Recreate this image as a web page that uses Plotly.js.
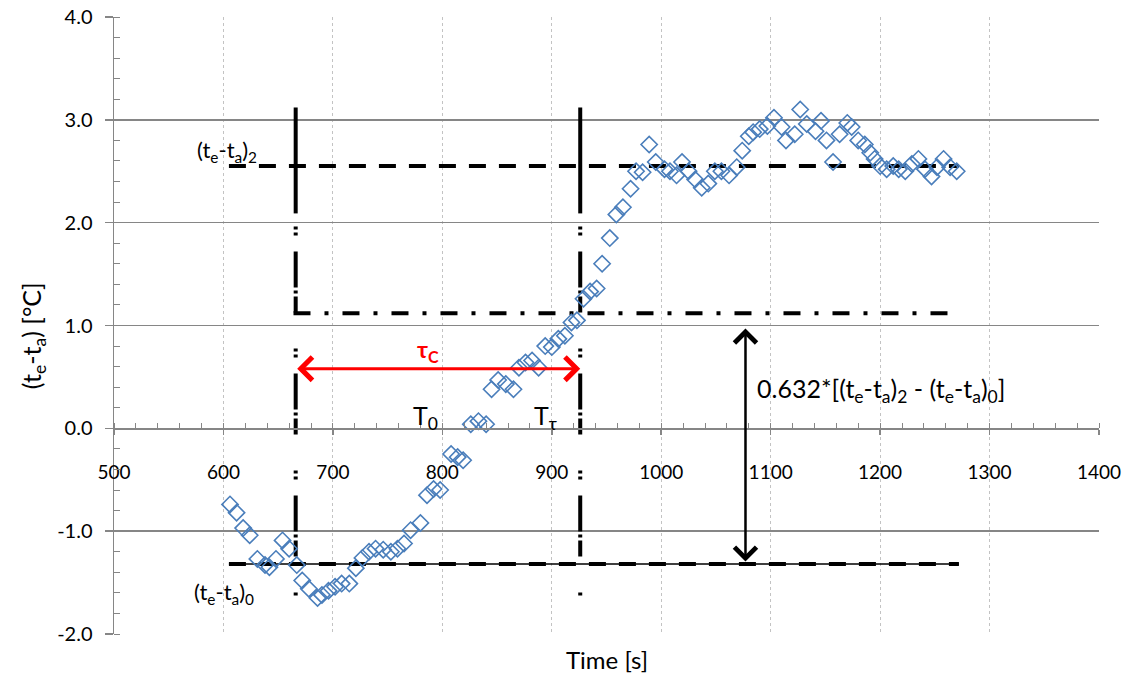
<!DOCTYPE html>
<html>
<head>
<meta charset="utf-8">
<script src="https://cdn.plot.ly/plotly-3.0.1.min.js"></script>
<style>html,body{margin:0;padding:0;background:#fff;}#chart{width:1129px;height:677px;}</style>
</head>
<body>
<div id="chart"></div>
<script>
// ---- data ----
const timeS = [606,612,618,624,631,638,642,648,654,660,667,672,678,686,690,696,702,708,715,721,
  727,733,739,746,753,759,765,771,780,786,792,798,808,814,819,826,833,840,845,851,
  858,865,870,876,882,888,894,900,906,912,918,923,929,935,941,946,953,959,965,972,
  977,983,989,995,1003,1008,1014,1019,1025,1031,1037,1043,1049,1055,1062,1069,1074,1080,1084,1090,
  1097,1103,1110,1114,1122,1127,1133,1141,1146,1151,1157,1163,1170,1174,1180,1186,1191,1195,1200,1206,
  1212,1217,1223,1229,1235,1241,1247,1252,1258,1264,1270];
const dT = [-0.74,-0.82,-0.97,-1.04,-1.27,-1.33,-1.35,-1.27,-1.09,-1.17,-1.33,-1.48,-1.56,-1.65,-1.62,-1.58,-1.54,-1.51,-1.51,-1.36,
  -1.26,-1.20,-1.17,-1.18,-1.20,-1.17,-1.12,-0.99,-0.92,-0.65,-0.59,-0.60,-0.25,-0.28,-0.31,0.04,0.07,0.04,0.38,0.47,
  0.43,0.38,0.59,0.64,0.66,0.59,0.80,0.79,0.87,0.90,1.03,1.05,1.26,1.33,1.36,1.60,1.85,2.08,2.15,2.33,
  2.50,2.49,2.76,2.59,2.52,2.50,2.46,2.59,2.50,2.42,2.34,2.38,2.50,2.50,2.46,2.54,2.70,2.84,2.88,2.91,
  2.94,3.02,2.93,2.80,2.86,3.10,2.96,2.89,2.99,2.80,2.59,2.86,2.97,2.93,2.80,2.76,2.68,2.62,2.55,2.52,
  2.55,2.52,2.50,2.57,2.62,2.52,2.45,2.54,2.62,2.54,2.50];

// reference levels and times
const lineSpan = [605, 1272];          // time span of the horizontal levels
const level2 = 2.55;                   // (te-ta)2
const level0 = -1.32;                  // (te-ta)0
const level632 = 1.12;                 // 63.2 % level
const level632Span = [664, 1272];
const T0 = 666;                        // start time
const Ttau = 926;                      // time at 63.2 %
const vertRange = [3.12, -1.64];
const vertSolidEnd = 2.09;
const tauArrowLevel = 0.58;
const stepArrowTime = 1077;
const stepArrowRange = [0.97, -1.31];

const xTicks = [500,600,700,800,900,1000,1100,1200,1300,1400];
const yTicks = [-2,-1,0,1,2,3,4];

const FONT = 'Lato, "Open Sans", sans-serif';
const blk = '#000000';

const traces = [
  {x: lineSpan, y: [level0, level0], mode: 'lines', line: {color: blk, width: 1.6}, hoverinfo: 'skip'},
  {x: lineSpan, y: [level0, level0], mode: 'lines', line: {color: blk, width: 4, dash: '17px,13px'}, hoverinfo: 'skip'},
  {x: lineSpan, y: [level2, level2], mode: 'lines', line: {color: blk, width: 4, dash: '17px,13px'}, hoverinfo: 'skip'},
  {x: level632Span, y: [level632, level632], mode: 'lines', line: {color: blk, width: 4, dash: '17px,14px,4px,14px'}, hoverinfo: 'skip'},
  {x: [T0, T0], y: [vertRange[0], vertSolidEnd], mode: 'lines', line: {color: blk, width: 4}, hoverinfo: 'skip'},
  {x: [Ttau, Ttau], y: [vertRange[0], vertSolidEnd], mode: 'lines', line: {color: blk, width: 4}, hoverinfo: 'skip'},
  {x: [T0, T0], y: [vertSolidEnd, vertRange[1]], mode: 'lines', line: {color: blk, width: 4, dash: '0px,13px,3px,3px,3px,16px,23px'}, hoverinfo: 'skip'},
  {x: [Ttau, Ttau], y: [vertSolidEnd, vertRange[1]], mode: 'lines', line: {color: blk, width: 4, dash: '0px,13px,3px,3px,3px,16px,23px'}, hoverinfo: 'skip'},
  {x: timeS, y: dT, mode: 'markers', marker: {symbol: 'diamond-open', size: 12.5, color: '#4a7ebb', line: {width: 1.6, color: '#4a7ebb'}}, hoverinfo: 'x+y'}
];

const annotations = [
  {x: Ttau, y: tauArrowLevel, ax: T0, ay: tauArrowLevel, xref: 'x', yref: 'y', axref: 'x', ayref: 'y',
   showarrow: true, arrowside: 'end+start', arrowhead: 4, startarrowhead: 4, arrowsize: 1.5, startarrowsize: 1.5,
   arrowwidth: 3, arrowcolor: '#ff0000', text: ''},
  {x: stepArrowTime, y: stepArrowRange[0], ax: stepArrowTime, ay: stepArrowRange[1], xref: 'x', yref: 'y', axref: 'x', ayref: 'y',
   showarrow: true, arrowside: 'end+start', arrowhead: 4, startarrowhead: 4, arrowsize: 1.7, startarrowsize: 1.7,
   arrowwidth: 2.5, arrowcolor: blk, text: ''},
  {x: 775, y: 0.76, xref: 'x', yref: 'y', xanchor: 'left', yanchor: 'middle', showarrow: false,
   text: '<b>τ<sub>C</sub></b>', font: {family: FONT, size: 23, color: '#ff0000'}},
  {x: 574, y: 2.70, xref: 'x', yref: 'y', xanchor: 'left', yanchor: 'middle', showarrow: false,
   text: '(t<sub>e</sub>-t<sub>a</sub>)<sub>2</sub>', font: {family: FONT, size: 22, color: blk}},
  {x: 571, y: -1.60, xref: 'x', yref: 'y', xanchor: 'left', yanchor: 'middle', showarrow: false,
   text: '(t<sub>e</sub>-t<sub>a</sub>)<sub>0</sub>', font: {family: FONT, size: 22, color: blk}},
  {x: 771, y: 0.11, xref: 'x', yref: 'y', xanchor: 'left', yanchor: 'middle', showarrow: false,
   text: 'T<sub>0</sub>', font: {family: FONT, size: 25, color: blk}},
  {x: 882, y: 0.11, xref: 'x', yref: 'y', xanchor: 'left', yanchor: 'middle', showarrow: false,
   text: 'T<sub>τ</sub>', font: {family: FONT, size: 25, color: blk}},
  {x: 1086, y: 0.37, xref: 'x', yref: 'y', xanchor: 'left', yanchor: 'middle', showarrow: false,
   text: '0.632*[(t<sub>e</sub>-t<sub>a</sub>)<sub>2</sub> - (t<sub>e</sub>-t<sub>a</sub>)<sub>0</sub>]', font: {family: FONT, size: 25, color: blk}},
  {x: 0.5005, y: -0.042, xref: 'paper', yref: 'paper', xanchor: 'center', yanchor: 'middle', showarrow: false,
   text: 'Time [s]', font: {family: FONT, size: 24, color: blk}},
  {x: -0.082, y: 0.483, xref: 'paper', yref: 'paper', xanchor: 'center', yanchor: 'middle', showarrow: false, textangle: -90,
   text: '(t<sub>e</sub>-t<sub>a</sub>) [°C]', font: {family: FONT, size: 25, color: blk}}
];

const layout = {
  width: 1129, height: 677,
  margin: {l: 114, r: 30, t: 17, b: 43},
  paper_bgcolor: '#ffffff', plot_bgcolor: '#ffffff',
  showlegend: false,
  font: {family: FONT, size: 18, color: blk},
  xaxis: {
    range: [500, 1400], tickvals: xTicks, ticktext: xTicks.map(String),
    anchor: 'free', position: 1/3,
    showgrid: true, gridcolor: '#c3c3c3', griddash: 'dot', gridwidth: 1,
    showline: true, linecolor: '#868686', linewidth: 1.5,
    ticks: 'outside', ticklen: 5, tickcolor: '#868686', tickwidth: 1.5,
    minor: {dtick: 20, tick0: 500, ticks: 'inside', ticklen: 5, tickcolor: '#868686', tickwidth: 1, showgrid: false},
    ticklabelstandoff: 21,
    tickfont: {family: FONT, size: 19, color: blk},
    zeroline: false, fixedrange: true
  },
  yaxis: {
    range: [-2, 4], tickvals: yTicks, ticktext: yTicks.map(v => v.toFixed(1)),
    showgrid: true, gridcolor: '#868686', gridwidth: 1.5,
    showline: true, linecolor: '#868686', linewidth: 1.5,
    ticks: 'outside', ticklen: 8, tickcolor: '#868686', tickwidth: 1.5,
    minor: {dtick: 0.2, tick0: 0, ticks: 'inside', ticklen: 6, tickcolor: '#868686', tickwidth: 1, showgrid: false},
    ticklabelstandoff: 8,
    tickfont: {family: FONT, size: 20, color: blk},
    zeroline: false, fixedrange: true
  },
  annotations: annotations
};

Plotly.newPlot('chart', traces, layout, {displayModeBar: false, staticPlot: true});
</script>
</body>
</html>
